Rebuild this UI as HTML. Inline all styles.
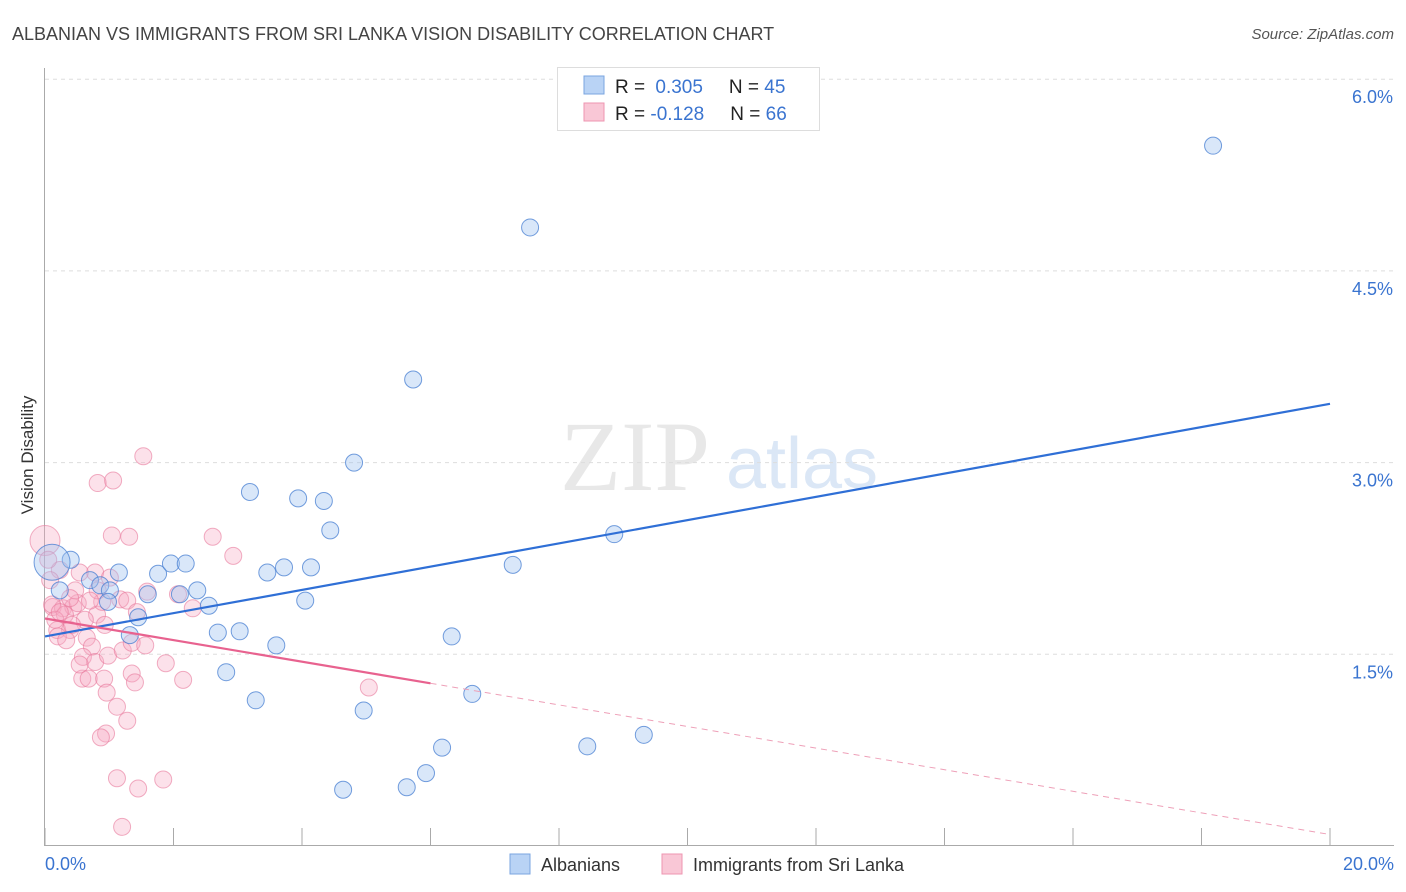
<!DOCTYPE html>
<html><head><meta charset="utf-8">
<style>
body{margin:0;background:#fff;font-family:"Liberation Sans",sans-serif;}
#wrap{position:relative;width:1406px;height:892px;overflow:hidden;}
svg{position:absolute;left:0;top:0;}
</style></head>
<body>
<div id="wrap">
<svg id="chart" width="1406" height="892">
  <text x="12" y="40" font-size="18" fill="#444">ALBANIAN VS IMMIGRANTS FROM SRI LANKA VISION DISABILITY CORRELATION CHART</text>
  <text x="1394" y="39" font-size="15" fill="#555" font-style="italic" text-anchor="end">Source: ZipAtlas.com</text>
  <text x="33" y="455" font-size="17" fill="#333" text-anchor="middle" transform="rotate(-90 33 455)">Vision Disability</text>
  <g>
    <text x="635" y="490" font-size="100" fill="#e8e8e8" font-family="Liberation Serif,serif" text-anchor="middle">ZIP</text>
    <text x="802" y="488" font-size="72" fill="#dbe7f6" text-anchor="middle">atlas</text>
  </g>
  <g id="grid"></g>
  <g id="axes"></g>
  <g id="pinkPts"></g>
  <g id="bluePts"></g>
  <g id="lines"></g>
  <g>
    <rect x="557.5" y="67.5" width="262" height="63" fill="#fff" stroke="#ddd"/>
    <rect x="584" y="76" width="20" height="18" fill="#b9d3f5" stroke="#7aa5e0"/>
    <rect x="584" y="103" width="20" height="18" fill="#f9c7d6" stroke="#ee95b0"/>
    <text x="615" y="93" font-size="19" fill="#222">R = <tspan fill="#3a74d0" dx="5">0.305</tspan><tspan dx="26">N = </tspan><tspan fill="#3a74d0">45</tspan></text>
    <text x="615" y="120" font-size="19" fill="#222">R = <tspan fill="#3a74d0">-0.128</tspan><tspan dx="26">N = </tspan><tspan fill="#3a74d0">66</tspan></text>
  </g>
  <g>
    <rect x="510" y="854" width="20" height="20" fill="#b9d3f5" stroke="#7aa5e0"/>
    <text x="541" y="871" font-size="18" fill="#333">Albanians</text>
    <rect x="662" y="854" width="20" height="20" fill="#f9c7d6" stroke="#ee95b0"/>
    <text x="693" y="871" font-size="18" fill="#333">Immigrants from Sri Lanka</text>
  </g>
</svg>
</div>
<script>
const blueX=[18.18,7.55,5.73,4.81,3.19,3.94,4.34,4.44,8.86,0.40,0.11,1.15,1.76,1.96,2.19,3.46,3.72,4.14,7.28,0.70,0.86,0.23,1.60,2.10,2.37,1.01,2.55,4.05,0.98,1.45,2.69,3.03,1.32,3.60,6.33,2.82,3.28,6.65,4.96,6.18,8.44,9.32,5.93,5.63,4.64];
const blueY=[5.48,4.84,3.65,3.00,2.77,2.72,2.70,2.47,2.44,2.24,2.22,2.14,2.13,2.21,2.21,2.14,2.18,2.18,2.20,2.08,2.04,2.00,1.97,1.97,2.00,2.00,1.88,1.92,1.91,1.79,1.67,1.68,1.65,1.57,1.64,1.36,1.14,1.19,1.06,0.77,0.78,0.87,0.57,0.46,0.44];
const pinkX=[1.53,0.82,1.06,0.0,1.04,1.31,2.61,2.93,0.23,0.78,1.01,0.08,0.54,1.59,2.07,2.30,1.17,1.28,1.43,0.81,0.89,0.12,0.28,0.44,0.51,0.19,0.39,0.20,0.65,0.73,0.59,0.78,0.98,1.21,1.35,1.56,1.88,2.15,0.58,0.68,0.92,1.35,1.40,0.96,1.12,1.28,0.95,0.87,1.12,1.45,1.84,1.20,5.04,0.11,0.31,0.47,0.62,0.82,0.33,0.16,0.70,0.93,0.39,0.05,0.54,0.23,0.42];
const pinkY=[3.05,2.84,2.86,2.39,2.43,2.42,2.42,2.27,2.16,2.14,2.10,2.08,2.14,1.99,1.97,1.86,1.93,1.92,1.83,1.81,1.91,1.87,1.86,1.87,1.90,1.69,1.69,1.64,1.63,1.56,1.48,1.44,1.49,1.53,1.59,1.57,1.43,1.30,1.31,1.31,1.31,1.35,1.28,1.20,1.09,0.98,0.88,0.85,0.53,0.45,0.52,0.15,1.24,1.89,1.81,2.00,1.77,2.00,1.61,1.77,1.92,1.73,1.94,2.24,1.42,1.83,1.73];
const blueTrend=[1.64,3.46];
const pinkTrend=[1.78,0.09];
const pinkSolidEnd=6.0;
const yTicks=[1.5,3.0,4.5,6.0];
const yTickLabels=["1.5%","3.0%","4.5%","6.0%"];
const xTickVals=[0,2,4,6,8,10,12,14,16,18,20];
const xEndLabels=["0.0%","20.0%"];

const NS="http://www.w3.org/2000/svg";
const sx=v=>45+v*(1285/20);
const sy=v=>846-v*(191.7/1.5);
function mk(tag,attrs,parent){const e=document.createElementNS(NS,tag);for(const k in attrs)e.setAttribute(k,attrs[k]);parent.appendChild(e);return e;}
const grid=document.getElementById('grid'),axes=document.getElementById('axes');
yTicks.forEach((t,i)=>{
  const l=mk('line',{x1:45,x2:1394,y1:sy(t),y2:sy(t),stroke:'#ddd','stroke-dasharray':'4,4'},grid);
  
  
  const tx=mk('text',{x:1393,y:sy(t)+24,'font-size':18,fill:'#3a74d0','text-anchor':'end'},axes);
  tx.textContent=yTickLabels[i];
  
  
});
const ya=mk('line',{x1:44.5,x2:44.5,y1:68,y2:846,stroke:'#aaa'},axes);


const xa=mk('line',{x1:44,x2:1394,y1:845.5,y2:845.5,stroke:'#aaa'},axes);


xTickVals.forEach(v=>{
  const t=mk('line',{x1:sx(v),x2:sx(v),y1:828,y2:846,stroke:'#aaa'},axes);
  
  
});
const xl0=mk('text',{x:45,y:870,'font-size':18,fill:'#3a74d0'},axes);
xl0.textContent=xEndLabels[0];


const xl1=mk('text',{x:1394,y:870,'font-size':18,fill:'#3a74d0','text-anchor':'end'},axes);
xl1.textContent=xEndLabels[1];



const pg=document.getElementById('pinkPts');
pinkX.forEach((x,i)=>{
  const c=mk('circle',{cx:sx(x),cy:sy(pinkY[i]),r:(i===3?15:8.5),fill:'rgba(246,170,195,0.35)',stroke:'rgba(232,120,155,0.6)','stroke-width':1},pg);
  
  
});
const bg=document.getElementById('bluePts');
blueX.forEach((x,i)=>{
  const c=mk('circle',{cx:sx(x),cy:sy(blueY[i]),r:(i===10?18:8.5),fill:'rgba(160,195,240,0.4)',stroke:'rgba(70,125,210,0.75)','stroke-width':1},bg);
  
  
});
const lg=document.getElementById('lines');
const bl=mk('line',{x1:sx(0),y1:sy(blueTrend[0]),x2:sx(20),y2:sy(blueTrend[1]),stroke:'#2f6fd6','stroke-width':2.2},lg);


const pAt=x=>pinkTrend[0]+(pinkTrend[1]-pinkTrend[0])*x/20;
const pl=mk('line',{x1:sx(0),y1:sy(pAt(0)),x2:sx(pinkSolidEnd),y2:sy(pAt(pinkSolidEnd)),stroke:'#e8628f','stroke-width':2.2},lg);


const pd=mk('line',{x1:sx(pinkSolidEnd),y1:sy(pAt(pinkSolidEnd)),x2:sx(20),y2:sy(pAt(20)),stroke:'#eea0b8','stroke-width':1,'stroke-dasharray':'6,5'},lg);


</script>
</body></html>
